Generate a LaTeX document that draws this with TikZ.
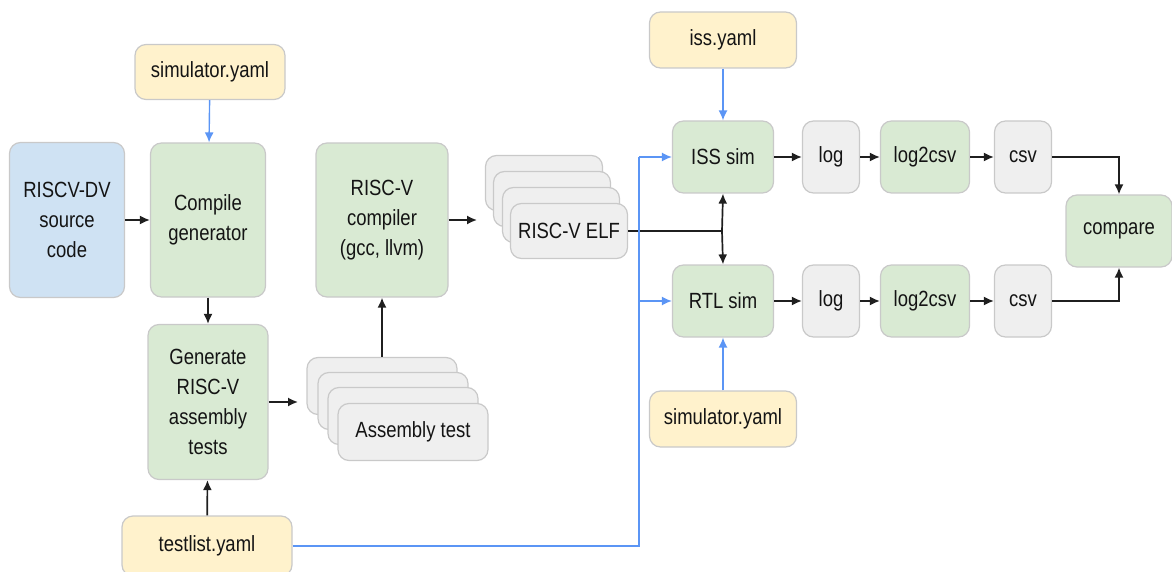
\documentclass[tikz,border=0pt]{standalone}
\usepackage{fontspec}
\setmainfont{Liberation Sans}[FakeStretch=0.84]
\usetikzlibrary{arrows.meta}
\definecolor{gfill}{HTML}{D9EAD3}
\definecolor{yfill}{HTML}{FFF2CC}
\definecolor{bfill}{HTML}{CFE2F3}
\definecolor{cfill}{HTML}{EFEFEF}
\definecolor{edge}{HTML}{C9C9C9}
\definecolor{bluearrow}{HTML}{5B95F5}
\tikzset{
  box/.style={draw=edge, line width=1.2pt, rounded corners=11pt, align=center,
    inner sep=2pt, font=\fontsize{22}{30}\selectfont, text=black!92},
  green/.style={box, fill=gfill},
  yellow/.style={box, fill=yfill},
  bluebox/.style={box, fill=bfill},
  grey/.style={box, fill=cfill},
  arr/.style={-{Latex[length=10pt,width=9pt]}, line width=1.7pt, black!88},
  barr/.style={-{Latex[length=10pt,width=9pt]}, line width=1.4pt, bluearrow},
  bline/.style={line width=1.4pt, bluearrow},
  kline/.style={line width=1.9pt, black!88},
}
\begin{document}
\begin{tikzpicture}[x=1pt,y=-1pt]
\useasboundingbox (0,0) rectangle (1172,572);
% left part
\node[yellow, minimum width=150pt, minimum height=55pt] (simtop) at (210,72) {simulator.yaml};
\node[bluebox, minimum width=115pt, minimum height=155pt] (src) at (67,220) {RISCV-DV\\source\\code};
\node[green, minimum width=115pt, minimum height=154pt] (cgen) at (208,220) {Compile\\generator};
\node[green, minimum width=120pt, minimum height=155pt] (gen) at (208,402) {Generate\\RISC-V\\assembly\\tests};
\node[yellow, minimum width=170pt, minimum height=60pt] (testlist) at (207,546) {testlist.yaml};
\node[green, minimum width=132pt, minimum height=154pt] (comp) at (382,220) {RISC-V\\compiler\\(gcc, llvm)};
% assembly test stack
\node[grey, minimum width=150pt, minimum height=57pt] (asm1) at (382,386) {};
\node[grey, minimum width=150pt, minimum height=57pt] (asm2) at (393,401) {};
\node[grey, minimum width=150pt, minimum height=57pt] (asm3) at (403,416) {};
\node[grey, minimum width=150pt, minimum height=57pt] (asm) at (413,432) {Assembly test};
% ELF stack
\node[grey, minimum width=117pt, minimum height=55pt] (elf1) at (544,183) {};
\node[grey, minimum width=117pt, minimum height=55pt] (elf2) at (552,199) {};
\node[grey, minimum width=117pt, minimum height=55pt] (elf3) at (561,215) {};
\node[grey, minimum width=117pt, minimum height=55pt] (elf) at (569,231) {RISC-V ELF};
% right part
\node[yellow, minimum width=147pt, minimum height=56pt] (issyaml) at (723,40) {iss.yaml};
\node[green, minimum width=101pt, minimum height=72pt] (iss) at (723,157) {ISS sim};
\node[green, minimum width=101pt, minimum height=72pt] (rtl) at (723,301) {RTL sim};
\node[yellow, minimum width=147pt, minimum height=56pt] (simbot) at (723,419) {simulator.yaml};
\node[grey, minimum width=57pt, minimum height=72pt] (log1) at (831,157) {log};
\node[green, minimum width=89pt, minimum height=72pt] (l2c1) at (925,157) {log2csv};
\node[grey, minimum width=57pt, minimum height=72pt] (csv1) at (1023,157) {csv};
\node[grey, minimum width=57pt, minimum height=72pt] (log2) at (831,301) {log};
\node[green, minimum width=89pt, minimum height=72pt] (l2c2) at (925,301) {log2csv};
\node[grey, minimum width=57pt, minimum height=72pt] (csv2) at (1023,301) {csv};
\node[green, minimum width=106pt, minimum height=72pt] (cmp) at (1119,231) {compare};
% coordinates
\coordinate (asmin) at (298,402);
\coordinate (elfin) at (477,220);
\coordinate (j) at (722,231);
\coordinate (bv) at (639,546);
\coordinate (bi) at (639,157);
\coordinate (br) at (639,301);
% connectors
\draw[barr] (simtop) -- (cgen);
\draw[arr] (src) -- (cgen);
\draw[arr] (cgen) -- (gen);
\draw[arr] (testlist) -- (gen);
\draw[arr] (gen.east |- asmin) -- (asmin);
\draw[arr] (asm1.north -| comp) -- (comp.south);
\draw[arr] (comp.east) -- (elfin);
\draw[kline] (elf.east) -- (j);
\draw[arr] (j) -- (iss.south);
\draw[arr] (j) -- (rtl.north);
\draw[barr] (issyaml) -- (iss);
\draw[barr] (simbot) -- (rtl);
\draw[bline] (testlist.east) -- (bv) -- (bi);
\draw[barr] (bi) -- (iss.west);
\draw[barr] (br) -- (rtl.west);
\draw[arr] (iss) -- (log1);
\draw[arr] (log1) -- (l2c1);
\draw[arr] (l2c1) -- (csv1);
\draw[arr] (rtl) -- (log2);
\draw[arr] (log2) -- (l2c2);
\draw[arr] (l2c2) -- (csv2);
\draw[arr] (csv1.east) -| (cmp.north);
\draw[arr] (csv2.east) -| (cmp.south);
\end{tikzpicture}
\end{document}
